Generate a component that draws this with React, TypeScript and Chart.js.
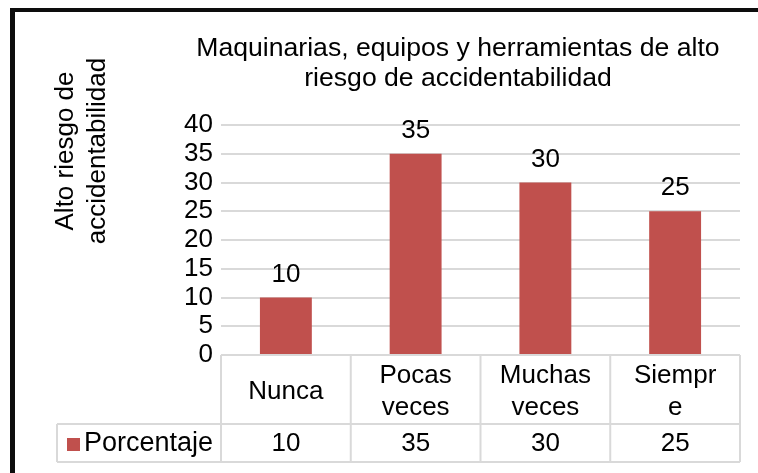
import React, { useEffect, useRef } from "react";
import { Chart, registerables } from "chart.js";

Chart.register(...registerables);

const categories: string[][] = [["Nunca"], ["Pocas", "veces"], ["Muchas", "veces"], ["Siempr", "e"]];
const seriesName = "Porcentaje";
const values: number[] = [10, 35, 30, 25];
const titleLines: string[] = ["Maquinarias, equipos y herramientas de alto", "riesgo de accidentabilidad"];
const yTitleLines: string[] = ["Alto riesgo de", "accidentabilidad"];

const FONT = "Liberation Sans, Arial, sans-serif";
const FS = 26;
const BAR = "#C0504D";
const GRID = "#D9D9D9";

const tablePlugin = {
  id: "excelTable",
  beforeDraw(chart: any) {
    const ctx = chart.ctx;
    ctx.save();
    ctx.fillStyle = "#ffffff";
    ctx.fillRect(0, 0, chart.width, chart.height);
    ctx.fillStyle = "#0d0d0d";
    ctx.fillRect(10, 8, 5, chart.height - 8);
    ctx.fillRect(10, 8, chart.width - 10, 4);
    ctx.restore();
  },
  afterDraw(chart: any) {
    const ctx = chart.ctx;
    const area = chart.chartArea;
    const xs = chart.scales.x;
    const ys = chart.scales.y;
    const n = values.length;
    const cw = (area.right - area.left) / n;
    const top = area.bottom;
    const mid = 424;
    const bot = 462;
    const legendLeft = 57;
    ctx.save();
    ctx.fillStyle = "#000";
    ctx.textAlign = "center";
    ctx.textBaseline = "middle";
    ctx.font = `26.6px ${FONT}`;
    titleLines.forEach((t, i) => ctx.fillText(t, 458, 49 + i * 30));
    ctx.font = `${FS}px ${FONT}`;
    ctx.save();
    ctx.translate(0, 151);
    ctx.rotate(-Math.PI / 2);
    yTitleLines.forEach((t, i) => ctx.fillText(t, 0, 66 + i * 32));
    ctx.restore();
    values.forEach((v, i) => {
      const x = xs.getPixelForValue(i);
      const y = ys.getPixelForValue(v);
      ctx.fillText(String(v), x, y - 23);
    });
    ctx.strokeStyle = GRID;
    ctx.lineWidth = 2;
    ctx.beginPath();
    ctx.moveTo(area.left, top);
    ctx.lineTo(area.right, top);
    ctx.moveTo(legendLeft, mid);
    ctx.lineTo(area.right, mid);
    ctx.moveTo(legendLeft, bot);
    ctx.lineTo(area.right, bot);
    ctx.moveTo(legendLeft, mid);
    ctx.lineTo(legendLeft, bot);
    for (let i = 0; i <= n; i++) {
      const x = area.left + i * cw;
      ctx.moveTo(x, top);
      ctx.lineTo(x, bot);
    }
    ctx.stroke();
    categories.forEach((lines, i) => {
      const x = xs.getPixelForValue(i);
      const lh = 32;
      const cy = (top + mid) / 2 + 2;
      const start = cy - ((lines.length - 1) * lh) / 2;
      lines.forEach((l, j) => ctx.fillText(l, x, start + j * lh));
    });
    const ry = (mid + bot) / 2 + 1;
    values.forEach((v, i) => {
      ctx.fillText(String(v), xs.getPixelForValue(i), ry);
    });
    ctx.fillStyle = BAR;
    ctx.fillRect(67, ry - 6, 13, 13);
    ctx.fillStyle = "#000";
    ctx.textAlign = "left";
    ctx.font = `27px ${FONT}`;
    ctx.fillText(seriesName, 84, ry);
    ctx.restore();
  },
};

export default function App() {
  const ref = useRef<HTMLCanvasElement | null>(null);
  useEffect(() => {
    if (!ref.current) return;
    const chart = new Chart(ref.current, {
      type: "bar",
      data: {
        labels: categories.map((c) => c.join(" ")),
        datasets: [
          {
            label: seriesName,
            data: values,
            backgroundColor: BAR,
            barPercentage: 0.8,
            categoryPercentage: 0.5,
          },
        ],
      },
      options: {
        responsive: false,
        animation: false,
        devicePixelRatio: 1,
        layout: { padding: { top: 125, right: 18, bottom: 118, left: 0 } },
        plugins: { legend: { display: false }, tooltip: { enabled: false }, title: { display: false } },
        scales: {
          x: { display: false },
          y: {
            min: 0,
            max: 40,
            ticks: { stepSize: 5, autoSkip: false, color: "#000", font: { family: FONT, size: FS }, padding: 8 },
            grid: { color: GRID, lineWidth: 2, drawTicks: false },
            border: { display: false },
            afterFit: (scale: any) => {
              scale.width = 221;
            },
          },
        },
      },
      plugins: [tablePlugin],
    });
    return () => chart.destroy();
  }, []);
  return (
    <div style={{ position: "fixed", left: 0, top: 0, width: 758, height: 473 }}>
      <canvas ref={ref} width={758} height={473} style={{ width: 758, height: 473 }} />
    </div>
  );
}
